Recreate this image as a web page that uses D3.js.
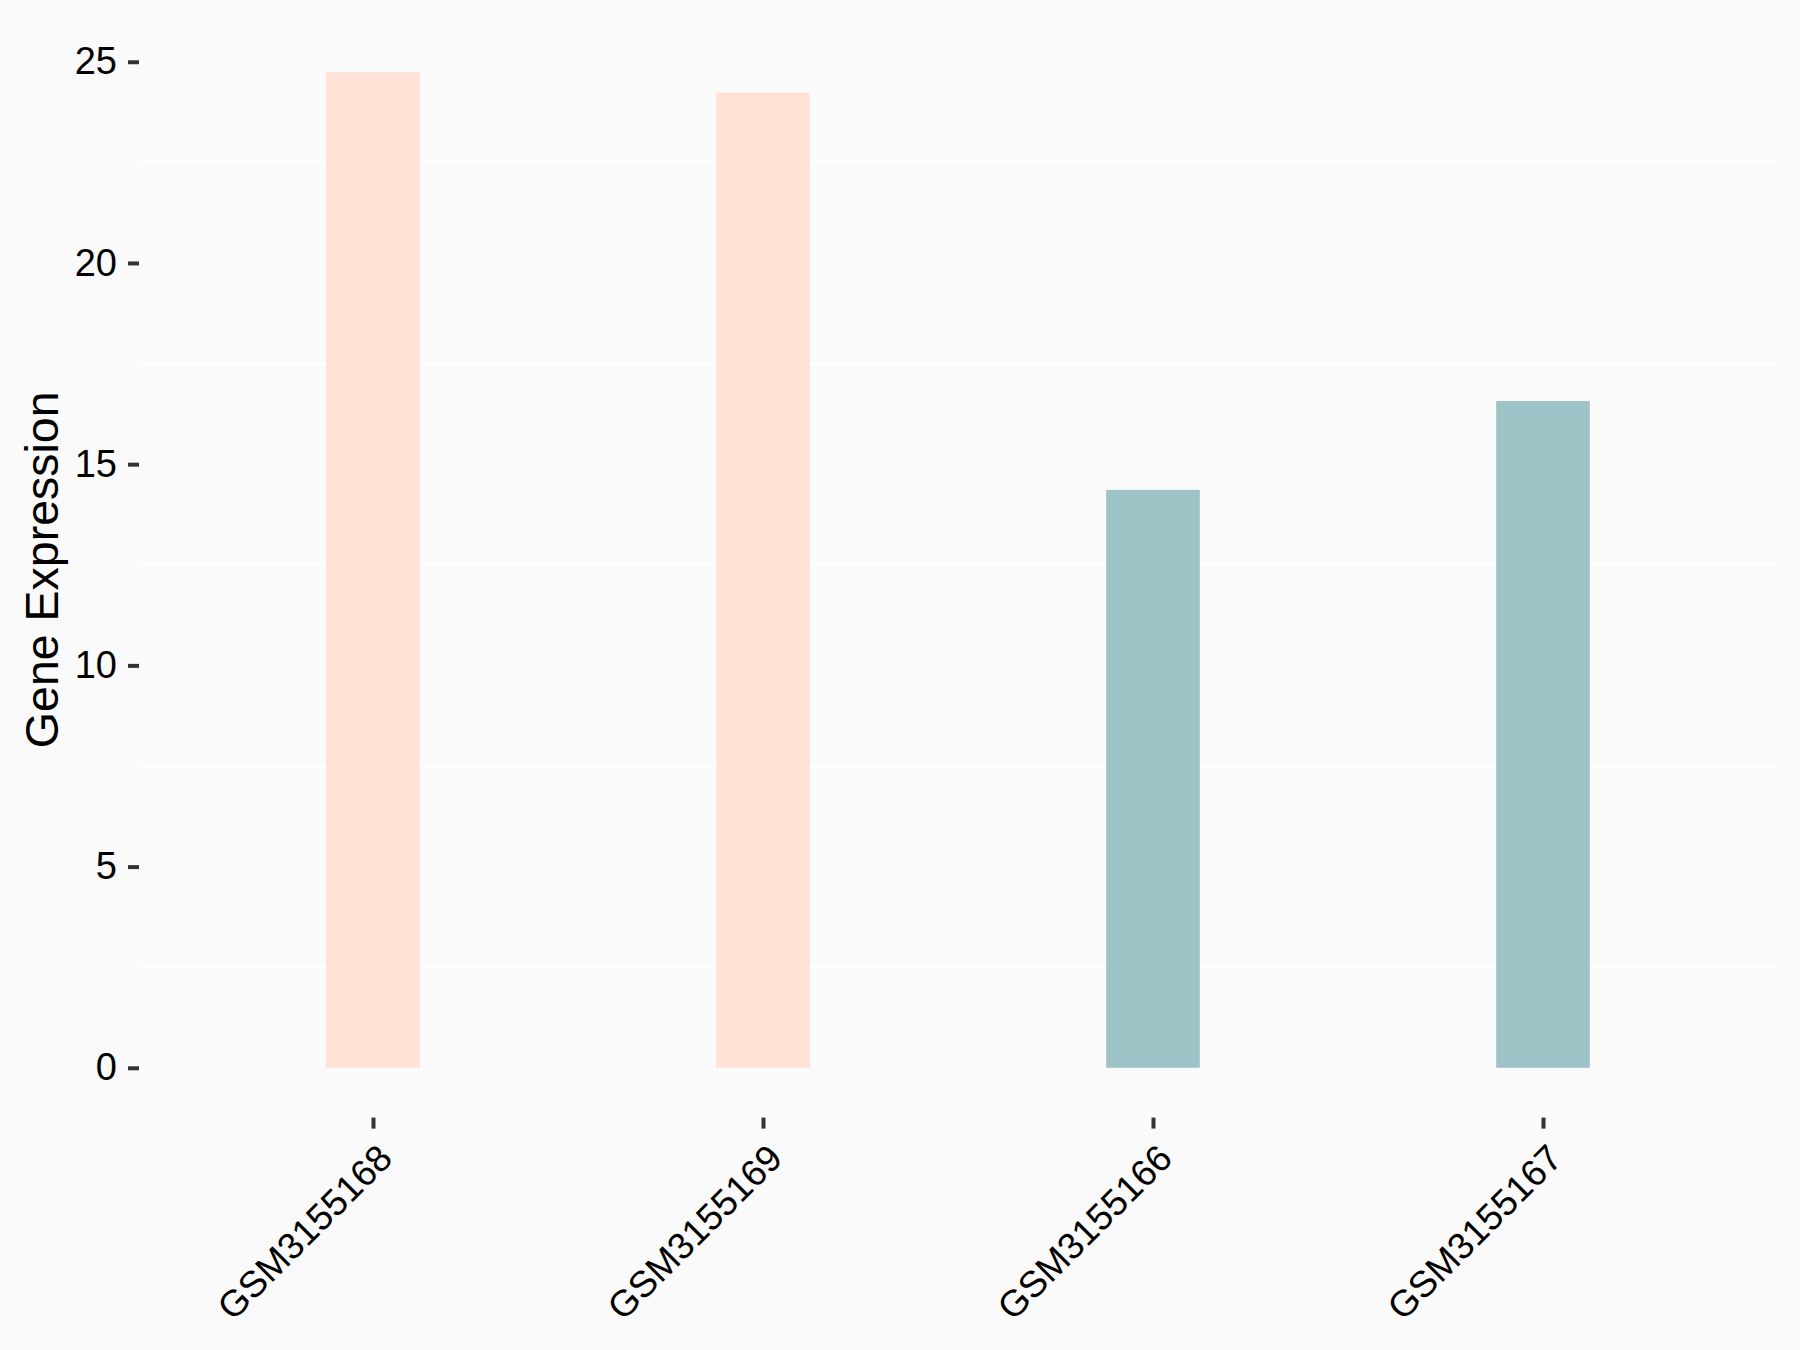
<!DOCTYPE html>
<html>
<head>
<meta charset="utf-8">
<script src="https://cdn.jsdelivr.net/npm/d3@7"></script>
<style>
  html, body { margin: 0; padding: 0; background: #FAFAFA; }
  svg { display: block; }
  text { font-family: "Liberation Sans", Arial, sans-serif; fill: #000; }
</style>
</head>
<body>
<script>
// ---- data ----
const samples = ["GSM3155168", "GSM3155169", "GSM3155166", "GSM3155167"];
const expression = [24.75, 24.23, 14.36, 16.57];
const groups = ["A", "A", "B", "B"];
const yTicks = [0, 5, 10, 15, 20, 25];
const yMinor = [2.5, 7.5, 12.5, 17.5, 22.5];
const groupColors = { A: "#FFE1D6", B: "#9DC3C7" };

const W = 1800, H = 1350;
const panel = { left: 139, right: 1777, top: 22, bottom: 1117.6 };

const svg = d3.select("body").append("svg").attr("width", W).attr("height", H);
svg.append("rect").attr("width", W).attr("height", H).attr("fill", "#FAFAFA");

const x = d3.scalePoint().domain(samples).range([panel.left, panel.right]).padding(0.6);
const ymax = d3.max(expression);
const ext = ymax * 0.05;
const y = d3.scaleLinear().domain([0 - ext, ymax + ext]).range([panel.bottom, panel.top]);

// minor grid
svg.append("g").selectAll("line").data(yMinor).join("line")
  .attr("x1", panel.left).attr("x2", panel.right)
  .attr("y1", d => y(d)).attr("y2", d => y(d))
  .attr("stroke", "#FFFFFF").attr("stroke-width", 2);

// bars
const bw = x.step() * 0.24;
svg.append("g").selectAll("rect").data(samples).join("rect")
  .attr("x", (d) => x(d) - bw / 2)
  .attr("width", bw)
  .attr("y", (d, i) => y(expression[i]))
  .attr("height", (d, i) => y(0) - y(expression[i]))
  .attr("fill", (d, i) => groupColors[groups[i]]);

// y axis
const yAxis = d3.axisLeft(y).tickValues(yTicks).tickSize(11).tickPadding(11).tickFormat(d3.format("d"));
const gy = svg.append("g").attr("transform", `translate(${panel.left},0)`).call(yAxis);
gy.select(".domain").remove();
gy.selectAll(".tick line").attr("stroke", "#333333").attr("stroke-width", 4);
gy.selectAll(".tick text").attr("font-size", 38).attr("fill", "#000")
  .style("font-family", '"Liberation Sans", Arial, sans-serif');

// x axis
const xAxis = d3.axisBottom(x).tickSize(11).tickPadding(0);
const gx = svg.append("g").attr("transform", `translate(0,${panel.bottom})`).call(xAxis);
gx.select(".domain").remove();
gx.selectAll(".tick line").attr("stroke", "#333333").attr("stroke-width", 4);
gx.selectAll(".tick text")
  .attr("font-size", 37)
  .attr("text-anchor", "end")
  .attr("x", 0).attr("y", 0).attr("dy", "0.72em")
  .attr("transform", "translate(2,24) rotate(-45)")
  .style("font-family", '"Liberation Sans", Arial, sans-serif');

// y title
svg.append("text")
  .attr("transform", `translate(58,${(panel.top + panel.bottom) / 2}) rotate(-90)`)
  .attr("text-anchor", "middle")
  .attr("font-size", 46.5)
  .text("Gene Expression");
</script>
</body>
</html>
